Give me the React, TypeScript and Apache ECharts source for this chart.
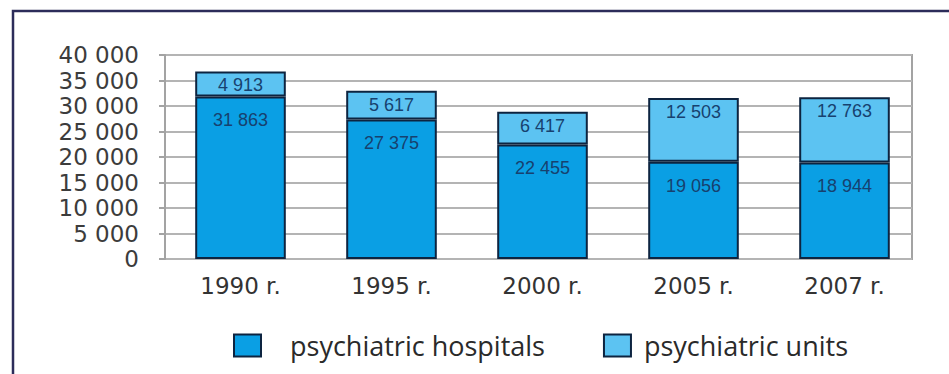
import React, { useEffect, useRef } from "react";
import * as echarts from "echarts";

// Years on the horizontal axis
const categories = ["1990 r.", "1995 r.", "2000 r.", "2005 r.", "2007 r."];
// Beds in psychiatric hospitals
const hospitals = [31863, 27375, 22455, 19056, 18944];
// Beds in psychiatric units
const units = [4913, 5617, 6417, 12503, 12763];
// Value axis range
const yMin = 0;
const yMax = 40000;
const yStep = 5000;

const seriesNames = ["psychiatric hospitals", "psychiatric units"];

const fmt = (v: number) => String(v).replace(/\B(?=(\d{3})+(?!\d))/g, " ");

const HOSP_COLOR = "#0a9fe4";
const UNIT_COLOR = "#5cc3f2";
const EDGE = "#0d2440";
const LABEL_FONT = "'Liberation Sans Narrow', 'Liberation Sans', Arial, sans-serif";
const AXIS_FONT = "'DejaVu Sans', Verdana, sans-serif";

export default function App() {
  const ref = useRef<HTMLDivElement>(null);

  useEffect(() => {
    if (!ref.current) return;
    const chart = echarts.init(ref.current, null, { renderer: "svg" });
    const barLabel = (distance: number) => ({
      show: true,
      position: "insideTop",
      distance,
      color: "#17416f",
      fontFamily: LABEL_FONT,
      fontSize: 18,
      formatter: (p: any) => fmt(p.value),
    });
    chart.setOption({
      animation: false,
      backgroundColor: "#ffffff",
      graphic: [
        {
          type: "rect",
          shape: { x: 13, y: 11, width: 1000, height: 500 },
          style: { fill: "none", stroke: "#2c2c5a", lineWidth: 2.5 },
          z: 100,
        },
      ],
      legend: {
        data: [
          { name: seriesNames[0], textStyle: { padding: [14, 0, 0, 24] } },
          { name: seriesNames[1], textStyle: { padding: [14, 0, 0, 8] } },
        ],
        left: 228,
        top: 327,
        itemWidth: 27,
        itemHeight: 22,
        itemGap: 58,
        icon: "rect",
        textStyle: {
          fontFamily: "'Open Sans', 'Noto Sans', sans-serif",
          fontSize: 27,
          color: "#2a2a2a",
        },
      },
      grid: [
        {
          left: 165,
          top: 55,
          width: 747,
          height: 204,
          show: true,
          borderColor: "#a3a3a3",
          borderWidth: 2,
          backgroundColor: "transparent",
        },
        {
          left: 165,
          top: 55,
          width: 755,
          height: 204,
        },
      ],
      xAxis: [
        { type: "category", gridIndex: 0, data: categories, show: false },
        {
          type: "category",
          gridIndex: 1,
          data: categories,
          axisLine: { show: false },
          axisTick: { show: false },
          axisLabel: {
            color: "#333333",
            fontFamily: AXIS_FONT,
            fontSize: 23,
            margin: 15,
          },
        },
      ],
      yAxis: [
        {
          type: "value",
          gridIndex: 0,
          min: yMin,
          max: yMax,
          interval: yStep,
          axisLine: { show: true, lineStyle: { color: "#a3a3a3", width: 2 } },
          axisTick: { show: true, length: 6, lineStyle: { color: "#a3a3a3", width: 2 } },
          splitLine: { show: true, lineStyle: { color: "#b4b4b4", width: 2 } },
          axisLabel: {
            color: "#3c3c3c",
            fontFamily: AXIS_FONT,
            fontSize: 23,
            margin: 26,
            formatter: (v: number) => fmt(v),
          },
        },
        {
          type: "value",
          gridIndex: 1,
          min: yMin,
          max: yMax,
          interval: yStep,
          show: false,
          splitLine: { show: false },
        },
      ],
      series: [
        {
          name: seriesNames[0],
          type: "bar",
          stack: "beds",
          xAxisIndex: 1,
          yAxisIndex: 1,
          barWidth: "60%",
          data: hospitals,
          itemStyle: { color: HOSP_COLOR, borderColor: EDGE, borderWidth: 2 },
          label: barLabel(15),
        },
        {
          name: seriesNames[1],
          type: "bar",
          stack: "beds",
          xAxisIndex: 1,
          yAxisIndex: 1,
          barWidth: "60%",
          data: units,
          itemStyle: { color: UNIT_COLOR, borderColor: EDGE, borderWidth: 2 },
          label: barLabel(5),
        },
      ],
    });
    return () => chart.dispose();
  }, []);

  return (
    <div
      ref={ref}
      style={{ position: "fixed", left: 0, top: 0, width: 949, height: 374 }}
    />
  );
}
